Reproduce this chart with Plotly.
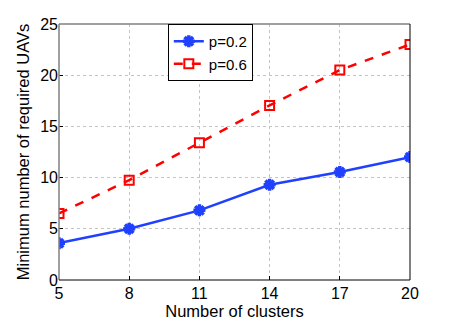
import plotly.graph_objects as go

clusters = [5, 8, 11, 14, 17, 20]
uavs_p02 = [3.6, 5.0, 6.8, 9.3, 10.55, 12.0]
uavs_p06 = [6.5, 9.75, 13.4, 17.05, 20.5, 23.0]

blue = "#2040ff"
red = "#ff0000"

fig = go.Figure()

fig.add_trace(go.Scatter(
    x=clusters, y=uavs_p02, mode="lines+markers", name="p=0.2",
    line=dict(color=blue, width=2.5),
    marker=dict(symbol="asterisk-open", size=10, color=blue,
                line=dict(color=blue, width=3.5))
))
fig.add_trace(go.Scatter(
    x=clusters, y=uavs_p06, mode="lines+markers", name="p=0.6",
    line=dict(color=red, width=2.5, dash="dash"),
    marker=dict(symbol="square-open", size=9, color=red,
                line=dict(color=red, width=2))
))

font = dict(family="Liberation Sans, Arial, sans-serif", color="black")

fig.update_xaxes(
    range=[5, 20], tickvals=clusters, ticks="inside", ticklen=4,
    tickcolor="black", showgrid=True, gridcolor="#c4c4c4", griddash="dot",
    gridwidth=1, zeroline=False, showline=False, automargin=False,
    ticklabelstandoff=2,
    tickfont=dict(size=16), title=dict(text="Number of clusters", font=dict(size=16.5), standoff=0)
)
fig.update_yaxes(
    range=[0, 25], tickvals=[0, 5, 10, 15, 20, 25], ticks="inside", ticklen=4,
    tickcolor="black", showgrid=True, gridcolor="#c4c4c4", griddash="dot",
    gridwidth=1, zeroline=False, showline=False, automargin=False,
    tickfont=dict(size=16),
    title=dict(text="Minimum number of required UAVs", font=dict(size=16.5), standoff=6)
)

# box around the axes (left/top grey, bottom/right black as in the source)
fig.add_shape(type="line", xref="paper", yref="paper", x0=0, x1=0, y0=0, y1=1,
              line=dict(color="#808080", width=1.5))
fig.add_shape(type="line", xref="paper", yref="paper", x0=0, x1=1, y0=1, y1=1,
              line=dict(color="#808080", width=1.5))
fig.add_shape(type="line", xref="paper", yref="paper", x0=0, x1=1, y0=0, y1=0,
              line=dict(color="black", width=1))
fig.add_shape(type="line", xref="paper", yref="paper", x0=1, x1=1, y0=0, y1=1,
              line=dict(color="black", width=1))

fig.update_layout(
    width=452, height=322,
    margin=dict(l=59, r=42, t=24, b=42),
    paper_bgcolor="white", plot_bgcolor="white",
    font=font,
    legend=dict(
        x=0.31, y=1.0, xanchor="left", yanchor="top",
        bgcolor="white", bordercolor="black", borderwidth=1,
        font=dict(size=15), tracegroupgap=0, itemwidth=30
    ),
)

fig.write_html("out.html", config={"displayModeBar": False},
               post_script="document.body.style.margin='0';")
